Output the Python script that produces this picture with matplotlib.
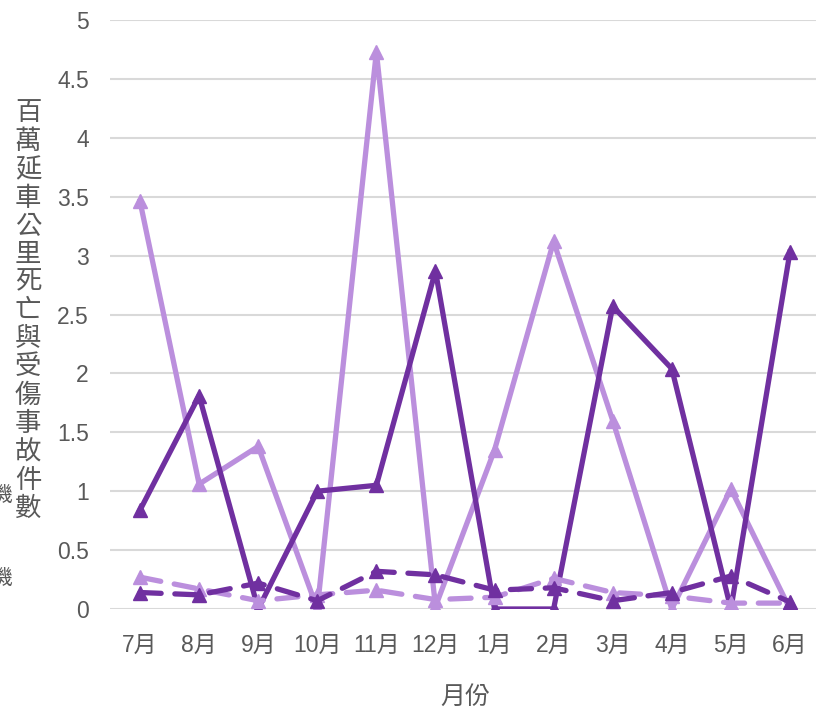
import matplotlib
matplotlib.use("Agg")
import matplotlib.pyplot as plt

plt.rcParams["font.family"] = ["Liberation Sans", "Noto Sans CJK TC", "DejaVu Sans"]

# --- data ---
MONTHS = ["7月", "8月", "9月", "10月", "11月", "12月", "1月", "2月", "3月", "4月", "5月", "6月"]
LIGHT_SOLID = [3.46, 1.06, 1.38, 0.0, 4.73, 0.02, 1.35, 3.12, 1.60, 0.0, 1.02, 0.0]
DARK_SOLID = [0.84, 1.81, 0.0, 1.00, 1.05, 2.87, 0.0, 0.0, 2.57, 2.04, 0.0, 3.03]
LIGHT_DASHED = [0.27, 0.17, 0.07, 0.12, 0.16, 0.08, 0.10, 0.26, 0.14, 0.11, 0.05, 0.05]
DARK_DASHED = [0.14, 0.12, 0.22, 0.07, 0.32, 0.29, 0.16, 0.18, 0.07, 0.14, 0.28, 0.06]
Y_TICKS = [0, 0.5, 1, 1.5, 2, 2.5, 3, 3.5, 4, 4.5, 5]
Y_LABEL = "百萬延車公里死亡與受傷事故件數"
X_LABEL = "月份"

# --- style ---
LIGHT = "#BB8FDD"
DARK = "#7030A0"
GRID = "#D9D9D9"
TEXT = "#595959"
LW = 3.8
MS = 10

fig = plt.figure(figsize=(8.16, 7.11), dpi=100)
ax = fig.add_axes([110.5 / 816, 1 - 609 / 711, 709 / 816, 589 / 711])

x = list(range(len(MONTHS)))
ax.plot(x, LIGHT_SOLID, color=LIGHT, lw=LW, marker="^", ms=MS, zorder=3)
ax.plot(x, DARK_SOLID, color=DARK, lw=LW, marker="^", ms=MS, zorder=4)
ax.plot(x, LIGHT_DASHED, color=LIGHT, lw=LW, marker="^", ms=MS, zorder=5,
        dashes=(4, 2.6), dash_capstyle="round")
ax.plot(x, DARK_DASHED, color=DARK, lw=LW, marker="^", ms=MS, zorder=6,
        dashes=(4, 2.6), dash_capstyle="round")

ax.set_xlim(-0.5, len(MONTHS) - 0.5)
ax.set_ylim(0, 5)
ax.set_xticks(x)
ax.set_xticklabels(MONTHS)
ax.set_yticks(Y_TICKS)
ax.set_yticklabels([f"{v:g}" for v in Y_TICKS])
ax.tick_params(length=0, labelsize=16.5, colors=TEXT)
ax.tick_params(axis="x", pad=18)
ax.tick_params(axis="y", pad=15.5)
for s in ax.spines.values():
    s.set_visible(False)
ax.grid(axis="y", color=GRID, lw=1.5, zorder=0)
ax.set_axisbelow(True)

ax.set_xlabel(X_LABEL, fontsize=18, color=TEXT, va="center")
ax.xaxis.set_label_coords((465 - 110.5) / 709, (609 - 697) / 589)

fig.text(28 / 816, 1 - 311 / 711, "\n".join(Y_LABEL), fontsize=19, color=TEXT,
         ha="center", va="center", linespacing=1.21)

# cut-off legend fragments at the left edge
for yy in (495, 578):
    fig.text(12 / 816, 1 - yy / 711, "機", fontsize=15, color=TEXT,
             ha="right", va="center")

fig.savefig("out.png", dpi=100)
